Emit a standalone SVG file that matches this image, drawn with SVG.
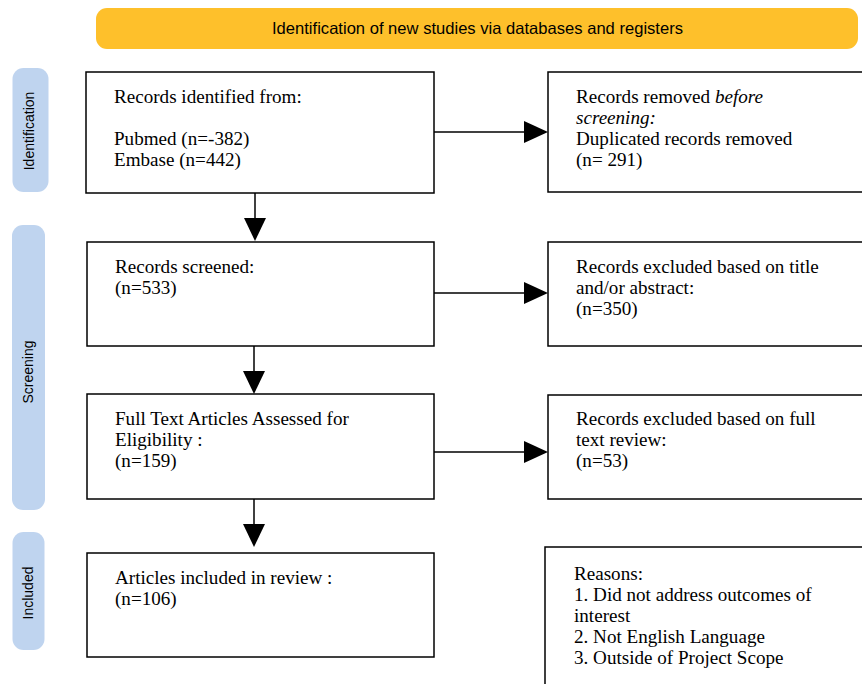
<svg xmlns="http://www.w3.org/2000/svg" width="862" height="684" viewBox="0 0 862 684">
<style>
.box{fill:#fff;stroke:#000;stroke-width:1.5}
.t{font-family:"Liberation Serif","Times New Roman",serif;font-size:19.1px;fill:#000}
.side{fill:#bfd4ef}
.st{font-family:"Liberation Sans",Arial,sans-serif;font-size:14px;fill:#000;text-anchor:middle}
.ln{stroke:#000;stroke-width:1.5;fill:none}
.ah{fill:#000}
</style>
<rect width="862" height="684" fill="#fff"/>
<g id="banner">
<rect x="96" y="8" width="762" height="41" rx="11" fill="#fec02b"/>
<text x="477.5" y="34" font-family="'Liberation Sans',Arial,sans-serif" font-size="16.5px" text-anchor="middle" textLength="411" lengthAdjust="spacingAndGlyphs">Identification of new studies via databases and registers</text>
</g>
<g id="side-identification">
<rect class="side" x="12.5" y="68" width="36" height="124" rx="11"/>
<text class="st" transform="translate(34,131) rotate(-90)">Identification</text>
</g>
<g id="side-screening">
<rect class="side" x="12" y="225" width="33" height="285" rx="11"/>
<text class="st" transform="translate(33,372) rotate(-90)">Screening</text>
</g>
<g id="side-included">
<rect class="side" x="12.5" y="532" width="32" height="118" rx="11"/>
<text class="st" transform="translate(33,593) rotate(-90)">Included</text>
</g>
<g id="n-identified">
<rect class="box" x="86" y="72" width="348" height="121"/>
<text class="t" x="114" y="103">Records identified from:</text>
<text class="t" x="114" y="145">Pubmed (n=-382)</text>
<text class="t" x="114" y="166">Embase (n=442)</text>
</g>
<g id="n-removed">
<rect class="box" x="548" y="72" width="330" height="120"/>
<text class="t" x="576" y="103">Records removed <tspan font-style="italic">before</tspan></text>
<text class="t" x="576" y="124" font-style="italic">screening:</text>
<text class="t" x="576" y="145">Duplicated records removed</text>
<text class="t" x="576" y="166">(n= 291)</text>
</g>
<g id="n-screened">
<rect class="box" x="87" y="242" width="347" height="104"/>
<text class="t" x="115" y="273">Records screened:</text>
<text class="t" x="115" y="294">(n=533)</text>
</g>
<g id="n-excluded-title">
<rect class="box" x="548" y="242" width="330" height="104"/>
<text class="t" x="576" y="273">Records excluded based on title</text>
<text class="t" x="576" y="294">and/or abstract:</text>
<text class="t" x="576" y="315">(n=350)</text>
</g>
<g id="n-fulltext">
<rect class="box" x="87" y="394" width="347" height="105"/>
<text class="t" x="115" y="425">Full Text Articles Assessed for</text>
<text class="t" x="115" y="446">Eligibility :</text>
<text class="t" x="115" y="467">(n=159)</text>
</g>
<g id="n-excluded-full">
<rect class="box" x="548" y="395" width="330" height="104"/>
<text class="t" x="576" y="425">Records excluded based on full</text>
<text class="t" x="576" y="446">text review:</text>
<text class="t" x="576" y="467">(n=53)</text>
</g>
<g id="n-included">
<rect class="box" x="87" y="553" width="347" height="104"/>
<text class="t" x="115" y="584">Articles included in review :</text>
<text class="t" x="115" y="605">(n=106)</text>
</g>
<g id="n-reasons">
<rect class="box" x="545" y="547" width="330" height="150"/>
<text class="t" x="574" y="580">Reasons:</text>
<text class="t" x="574" y="601">1. Did not address outcomes of</text>
<text class="t" x="574" y="622">interest</text>
<text class="t" x="574" y="643">2. Not English Language</text>
<text class="t" x="574" y="664">3. Outside of Project Scope</text>
</g>
<g id="connectors">
<line class="ln" x1="434" y1="132" x2="526" y2="132"/>
<polygon class="ah" points="524,121 548,132 524,143"/>
<line class="ln" x1="434" y1="293" x2="526" y2="293"/>
<polygon class="ah" points="524,282 548,293 524,304"/>
<line class="ln" x1="434" y1="452" x2="526" y2="452"/>
<polygon class="ah" points="524,441 548,452 524,463"/>
<line class="ln" x1="255" y1="193" x2="255" y2="220"/>
<polygon class="ah" points="244,218 266,218 255,241"/>
<line class="ln" x1="254" y1="346" x2="254" y2="373"/>
<polygon class="ah" points="243,371 265,371 254,394"/>
<line class="ln" x1="254" y1="499" x2="254" y2="526"/>
<polygon class="ah" points="243,524 265,524 254,547"/>
</g>
</svg>
